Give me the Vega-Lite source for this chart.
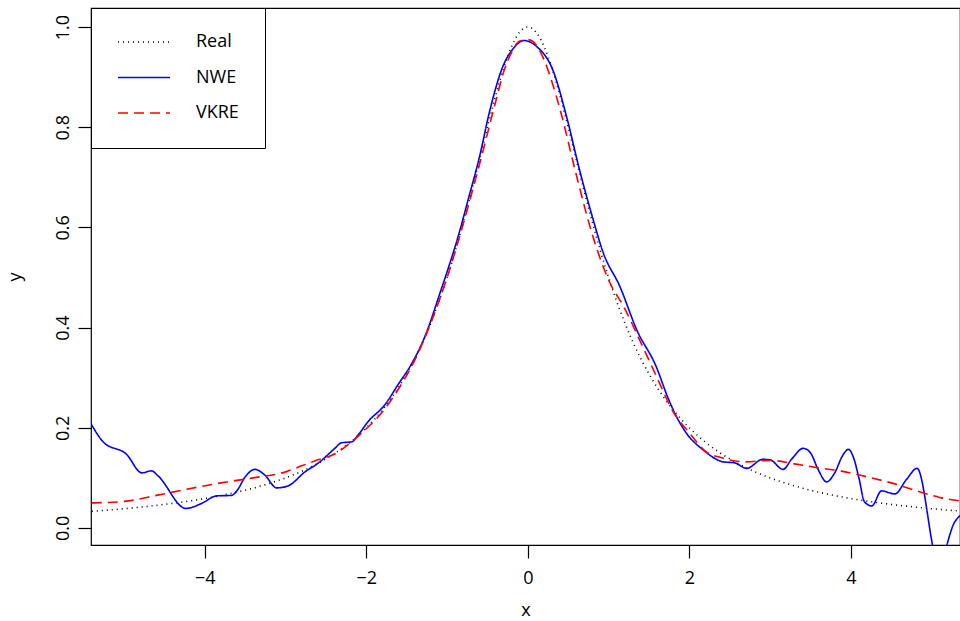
{
  "$schema": "https://vega.github.io/schema/vega-lite/v6.json",
  "width": 869,
  "height": 537,
  "autosize": {"type": "none"},
  "padding": {"left": 91, "top": 8, "right": 0, "bottom": 76},
  "background": "white",
  "config": {
    "font": "Open Sans",
    "view": {"stroke": "black", "strokeWidth": 1.2},
    "axis": {"grid": false, "domain": false, "tickColor": "black", "tickSize": 13, "tickWidth": 1.2, "labelColor": "black", "titleColor": "black", "labelFontSize": 18, "titleFontSize": 18, "titleFontWeight": "normal", "labelFont": "Open Sans", "titleFont": "Open Sans"}
  },
  "data": {"values": [
    {"series": "Real", "x": -5.4, "y": 0.0332},
    {"series": "Real", "x": -5.2, "y": 0.0357},
    {"series": "Real", "x": -5.0, "y": 0.0385},
    {"series": "Real", "x": -4.8, "y": 0.0416},
    {"series": "Real", "x": -4.6, "y": 0.0451},
    {"series": "Real", "x": -4.4, "y": 0.0491},
    {"series": "Real", "x": -4.2, "y": 0.0536},
    {"series": "Real", "x": -4.0, "y": 0.0588},
    {"series": "Real", "x": -3.8, "y": 0.0648},
    {"series": "Real", "x": -3.6, "y": 0.0716},
    {"series": "Real", "x": -3.4, "y": 0.0796},
    {"series": "Real", "x": -3.2, "y": 0.0890},
    {"series": "Real", "x": -3.0, "y": 0.1},
    {"series": "Real", "x": -2.8, "y": 0.1131},
    {"series": "Real", "x": -2.6, "y": 0.1289},
    {"series": "Real", "x": -2.4, "y": 0.1479},
    {"series": "Real", "x": -2.2, "y": 0.1712},
    {"series": "Real", "x": -2.0, "y": 0.2},
    {"series": "Real", "x": -1.9, "y": 0.2169},
    {"series": "Real", "x": -1.8, "y": 0.2358},
    {"series": "Real", "x": -1.7, "y": 0.2571},
    {"series": "Real", "x": -1.6, "y": 0.2809},
    {"series": "Real", "x": -1.5, "y": 0.3077},
    {"series": "Real", "x": -1.4, "y": 0.3378},
    {"series": "Real", "x": -1.3, "y": 0.3717},
    {"series": "Real", "x": -1.2, "y": 0.4098},
    {"series": "Real", "x": -1.1, "y": 0.4525},
    {"series": "Real", "x": -1.0, "y": 0.5},
    {"series": "Real", "x": -0.9, "y": 0.5525},
    {"series": "Real", "x": -0.8, "y": 0.6098},
    {"series": "Real", "x": -0.7, "y": 0.6711},
    {"series": "Real", "x": -0.6, "y": 0.7353},
    {"series": "Real", "x": -0.5, "y": 0.8},
    {"series": "Real", "x": -0.4, "y": 0.8621},
    {"series": "Real", "x": -0.3, "y": 0.9174},
    {"series": "Real", "x": -0.2, "y": 0.9615},
    {"series": "Real", "x": -0.1, "y": 0.9901},
    {"series": "Real", "x": 0.0, "y": 1.0},
    {"series": "Real", "x": 0.1, "y": 0.9901},
    {"series": "Real", "x": 0.2, "y": 0.9615},
    {"series": "Real", "x": 0.3, "y": 0.9174},
    {"series": "Real", "x": 0.4, "y": 0.8621},
    {"series": "Real", "x": 0.5, "y": 0.8},
    {"series": "Real", "x": 0.6, "y": 0.7353},
    {"series": "Real", "x": 0.7, "y": 0.6711},
    {"series": "Real", "x": 0.8, "y": 0.6098},
    {"series": "Real", "x": 0.9, "y": 0.5525},
    {"series": "Real", "x": 1.0, "y": 0.5},
    {"series": "Real", "x": 1.1, "y": 0.4525},
    {"series": "Real", "x": 1.2, "y": 0.4098},
    {"series": "Real", "x": 1.3, "y": 0.3717},
    {"series": "Real", "x": 1.4, "y": 0.3378},
    {"series": "Real", "x": 1.5, "y": 0.3077},
    {"series": "Real", "x": 1.6, "y": 0.2809},
    {"series": "Real", "x": 1.7, "y": 0.2571},
    {"series": "Real", "x": 1.8, "y": 0.2358},
    {"series": "Real", "x": 1.9, "y": 0.2169},
    {"series": "Real", "x": 2.0, "y": 0.2},
    {"series": "Real", "x": 2.2, "y": 0.1712},
    {"series": "Real", "x": 2.4, "y": 0.1479},
    {"series": "Real", "x": 2.6, "y": 0.1289},
    {"series": "Real", "x": 2.8, "y": 0.1131},
    {"series": "Real", "x": 3.0, "y": 0.1},
    {"series": "Real", "x": 3.2, "y": 0.0890},
    {"series": "Real", "x": 3.4, "y": 0.0796},
    {"series": "Real", "x": 3.6, "y": 0.0716},
    {"series": "Real", "x": 3.8, "y": 0.0648},
    {"series": "Real", "x": 4.0, "y": 0.0588},
    {"series": "Real", "x": 4.2, "y": 0.0536},
    {"series": "Real", "x": 4.4, "y": 0.0491},
    {"series": "Real", "x": 4.6, "y": 0.0451},
    {"series": "Real", "x": 4.8, "y": 0.0416},
    {"series": "Real", "x": 5.0, "y": 0.0385},
    {"series": "Real", "x": 5.2, "y": 0.0357},
    {"series": "Real", "x": 5.4, "y": 0.0332},

    {"series": "NWE", "x": -5.41, "y": 0.208},
    {"series": "NWE", "x": -5.26, "y": 0.172},
    {"series": "NWE", "x": -4.97, "y": 0.147},
    {"series": "NWE", "x": -4.78, "y": 0.110},
    {"series": "NWE", "x": -4.66, "y": 0.114},
    {"series": "NWE", "x": -4.58, "y": 0.104},
    {"series": "NWE", "x": -4.235, "y": 0.039},
    {"series": "NWE", "x": -4.04, "y": 0.049},
    {"series": "NWE", "x": -3.855, "y": 0.064},
    {"series": "NWE", "x": -3.67, "y": 0.065},
    {"series": "NWE", "x": -3.60, "y": 0.075},
    {"series": "NWE", "x": -3.50, "y": 0.102},
    {"series": "NWE", "x": -3.38, "y": 0.117},
    {"series": "NWE", "x": -3.26, "y": 0.106},
    {"series": "NWE", "x": -3.11, "y": 0.080},
    {"series": "NWE", "x": -2.97, "y": 0.084},
    {"series": "NWE", "x": -2.76, "y": 0.112},
    {"series": "NWE", "x": -2.60, "y": 0.129},
    {"series": "NWE", "x": -2.39, "y": 0.159},
    {"series": "NWE", "x": -2.31, "y": 0.170},
    {"series": "NWE", "x": -2.18, "y": 0.172},
    {"series": "NWE", "x": -2.10, "y": 0.186},
    {"series": "NWE", "x": -1.98, "y": 0.212},
    {"series": "NWE", "x": -1.77, "y": 0.246},
    {"series": "NWE", "x": -1.60, "y": 0.288},
    {"series": "NWE", "x": -1.46, "y": 0.322},
    {"series": "NWE", "x": -1.275, "y": 0.382},
    {"series": "NWE", "x": -1.09, "y": 0.468},
    {"series": "NWE", "x": -0.84, "y": 0.595},
    {"series": "NWE", "x": -0.74, "y": 0.655},
    {"series": "NWE", "x": -0.60, "y": 0.740},
    {"series": "NWE", "x": -0.47, "y": 0.834},
    {"series": "NWE", "x": -0.31, "y": 0.921},
    {"series": "NWE", "x": -0.18, "y": 0.957},
    {"series": "NWE", "x": -0.05, "y": 0.973},
    {"series": "NWE", "x": 0.11, "y": 0.961},
    {"series": "NWE", "x": 0.31, "y": 0.914},
    {"series": "NWE", "x": 0.48, "y": 0.821},
    {"series": "NWE", "x": 0.64, "y": 0.715},
    {"series": "NWE", "x": 0.81, "y": 0.615},
    {"series": "NWE", "x": 0.93, "y": 0.551},
    {"series": "NWE", "x": 1.14, "y": 0.482},
    {"series": "NWE", "x": 1.35, "y": 0.395},
    {"series": "NWE", "x": 1.59, "y": 0.322},
    {"series": "NWE", "x": 1.73, "y": 0.262},
    {"series": "NWE", "x": 1.82, "y": 0.229},
    {"series": "NWE", "x": 1.965, "y": 0.189},
    {"series": "NWE", "x": 2.17, "y": 0.156},
    {"series": "NWE", "x": 2.42, "y": 0.132},
    {"series": "NWE", "x": 2.56, "y": 0.130},
    {"series": "NWE", "x": 2.71, "y": 0.119},
    {"series": "NWE", "x": 2.91, "y": 0.137},
    {"series": "NWE", "x": 3.0, "y": 0.136},
    {"series": "NWE", "x": 3.16, "y": 0.117},
    {"series": "NWE", "x": 3.27, "y": 0.138},
    {"series": "NWE", "x": 3.41, "y": 0.159},
    {"series": "NWE", "x": 3.50, "y": 0.150},
    {"series": "NWE", "x": 3.60, "y": 0.115},
    {"series": "NWE", "x": 3.70, "y": 0.092},
    {"series": "NWE", "x": 3.80, "y": 0.110},
    {"series": "NWE", "x": 3.90, "y": 0.145},
    {"series": "NWE", "x": 3.97, "y": 0.157},
    {"series": "NWE", "x": 4.03, "y": 0.142},
    {"series": "NWE", "x": 4.10, "y": 0.100},
    {"series": "NWE", "x": 4.17, "y": 0.052},
    {"series": "NWE", "x": 4.26, "y": 0.044},
    {"series": "NWE", "x": 4.38, "y": 0.074},
    {"series": "NWE", "x": 4.545, "y": 0.068},
    {"series": "NWE", "x": 4.69, "y": 0.097},
    {"series": "NWE", "x": 4.82, "y": 0.119},
    {"series": "NWE", "x": 5.085, "y": -0.070},
    {"series": "NWE", "x": 5.29, "y": 0.013},
    {"series": "NWE", "x": 5.40, "y": 0.030},

    {"series": "VKRE", "x": -5.4, "y": 0.050},
    {"series": "VKRE", "x": -5.0, "y": 0.053},
    {"series": "VKRE", "x": -4.6, "y": 0.065},
    {"series": "VKRE", "x": -4.2, "y": 0.078},
    {"series": "VKRE", "x": -3.8, "y": 0.090},
    {"series": "VKRE", "x": -3.4, "y": 0.100},
    {"series": "VKRE", "x": -3.0, "y": 0.112},
    {"series": "VKRE", "x": -2.8, "y": 0.124},
    {"series": "VKRE", "x": -2.6, "y": 0.136},
    {"series": "VKRE", "x": -2.4, "y": 0.147},
    {"series": "VKRE", "x": -2.2, "y": 0.170},
    {"series": "VKRE", "x": -2.0, "y": 0.198},
    {"series": "VKRE", "x": -1.8, "y": 0.232},
    {"series": "VKRE", "x": -1.6, "y": 0.278},
    {"series": "VKRE", "x": -1.4, "y": 0.335},
    {"series": "VKRE", "x": -1.2, "y": 0.410},
    {"series": "VKRE", "x": -1.0, "y": 0.500},
    {"series": "VKRE", "x": -0.8, "y": 0.607},
    {"series": "VKRE", "x": -0.6, "y": 0.725},
    {"series": "VKRE", "x": -0.4, "y": 0.850},
    {"series": "VKRE", "x": -0.3, "y": 0.910},
    {"series": "VKRE", "x": -0.2, "y": 0.950},
    {"series": "VKRE", "x": -0.1, "y": 0.972},
    {"series": "VKRE", "x": 0.0, "y": 0.975},
    {"series": "VKRE", "x": 0.1, "y": 0.965},
    {"series": "VKRE", "x": 0.2, "y": 0.935},
    {"series": "VKRE", "x": 0.3, "y": 0.890},
    {"series": "VKRE", "x": 0.4, "y": 0.835},
    {"series": "VKRE", "x": 0.6, "y": 0.705},
    {"series": "VKRE", "x": 0.8, "y": 0.585},
    {"series": "VKRE", "x": 1.0, "y": 0.495},
    {"series": "VKRE", "x": 1.2, "y": 0.438},
    {"series": "VKRE", "x": 1.4, "y": 0.370},
    {"series": "VKRE", "x": 1.6, "y": 0.300},
    {"series": "VKRE", "x": 1.8, "y": 0.232},
    {"series": "VKRE", "x": 2.0, "y": 0.190},
    {"series": "VKRE", "x": 2.2, "y": 0.153},
    {"series": "VKRE", "x": 2.4, "y": 0.140},
    {"series": "VKRE", "x": 2.7, "y": 0.132},
    {"series": "VKRE", "x": 3.0, "y": 0.135},
    {"series": "VKRE", "x": 3.3, "y": 0.128},
    {"series": "VKRE", "x": 3.6, "y": 0.120},
    {"series": "VKRE", "x": 3.9, "y": 0.113},
    {"series": "VKRE", "x": 4.2, "y": 0.102},
    {"series": "VKRE", "x": 4.5, "y": 0.090},
    {"series": "VKRE", "x": 4.8, "y": 0.075},
    {"series": "VKRE", "x": 5.1, "y": 0.061},
    {"series": "VKRE", "x": 5.4, "y": 0.053}
  ]},
  "mark": {"type": "line", "clip": true, "strokeWidth": 1.6, "interpolate": "monotone"},
  "encoding": {
    "x": {"field": "x", "type": "quantitative", "title": "x",
      "scale": {"domain": [-5.41, 5.352], "nice": false, "zero": false},
      "axis": {"values": [-4, -2, 0, 2, 4], "labelPadding": 11, "titlePadding": 14}},
    "y": {"field": "y", "type": "quantitative", "title": "y",
      "scale": {"domain": [-0.034, 1.038], "nice": false, "zero": false},
      "axis": {"values": [0, 0.2, 0.4, 0.6, 0.8, 1.0], "format": ".1f", "labelAngle": -90, "labelAlign": "center", "labelBaseline": "alphabetic", "labelPadding": 10, "titlePadding": 30}},
    "color": {"field": "series", "type": "nominal", "title": null,
      "scale": {"domain": ["Real", "NWE", "VKRE"], "range": ["#000000", "#0000ff", "#ff0000"]},
      "legend": {"orient": "none", "legendX": 0, "legendY": 0, "strokeColor": "black", "fillColor": "white", "padding": 26, "symbolOffset": 0, "clipHeight": 16, "symbolType": "stroke", "symbolSize": 2704, "symbolStrokeWidth": 1.6, "labelFontSize": 18, "labelFont": "Open Sans", "labelColor": "black", "labelOffset": 25, "rowPadding": 17.5}},
    "strokeDash": {"field": "series", "type": "nominal", "title": null,
      "scale": {"domain": ["Real", "NWE", "VKRE"], "range": [[1, 4], [1, 0], [10, 6]]}}
  }
}
